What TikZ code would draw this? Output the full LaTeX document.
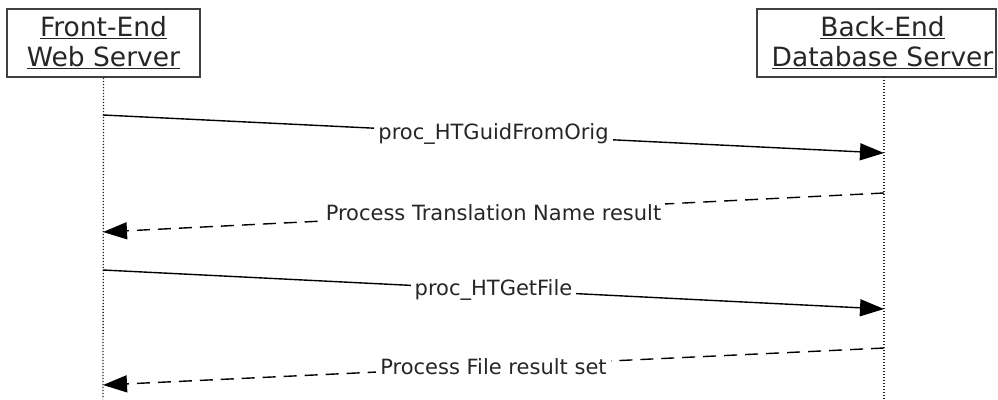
\documentclass[tikz,border=0pt]{standalone}
\usepackage{fontspec}
\setmainfont{DejaVu Sans}
\usepackage{xcolor}
\usepackage{tikz}
\usetikzlibrary{positioning,calc,arrows.meta}

\begin{document}
\begin{tikzpicture}[x=1pt,y=-1pt,
    actor/.style={draw=black!75,line width=1.6pt,minimum height=68pt,inner sep=0pt,
        align=center,text=black!85,font=\fontsize{26.5}{30}\selectfont},
    lifeline/.style={dash pattern=on 1.3pt off 1.7pt,line width=1.3pt,black!85},
    call/.style={line width=1.4pt,-{Triangle[length=24pt,width=17pt]}},
    reply/.style={call,dash pattern=on 13pt off 8pt},
    msglabel/.style={fill=white,inner xsep=4pt,inner ysep=1pt,text=black!85,
        font=\fontsize{21}{24}\selectfont}]
    \useasboundingbox (0,0) rectangle (998,399);
    % Front-End at left
    \node[actor,minimum width=193pt] (fe) at (103.5,43) {\underline{Front-End}\\\underline{Web Server}};
    \coordinate (feend) at (103,399);
    \draw[lifeline] (fe.south) -- (feend);
    % Back-End at right
    \node[actor,minimum width=239pt] (be) at (876.5,43) {\hspace{12pt}\underline{Back-End}\\\hspace{12pt}\underline{Database Server}};
    \coordinate (betop) at (884,77);
    \coordinate (beend) at (884,399);
    \draw[lifeline] (betop) -- (beend);
    % message end points
    \coordinate (m1s) at (103,115);  \coordinate (m1e) at (884,153);
    \coordinate (m2s) at (884,193);  \coordinate (m2e) at (103,232);
    \coordinate (m3s) at (103,270);  \coordinate (m3e) at (884,309);
    \coordinate (m4s) at (884,348);  \coordinate (m4e) at (103,385);
    % calls and replies
    \draw[call] (m1s) -- node[msglabel] (l1) {proc\_HTGuidFromOrig} (m1e);
    \draw[reply] (m2s) -- node[msglabel] (l2) {Process Translation Name result} (m2e);
    \draw[call] (m3s) -- node[msglabel] (l3) {proc\_HTGetFile} (m3e);
    \draw[reply] (m4s) -- node[msglabel] (l4) {Process File result set} (m4e);
\end{tikzpicture}
\end{document}
